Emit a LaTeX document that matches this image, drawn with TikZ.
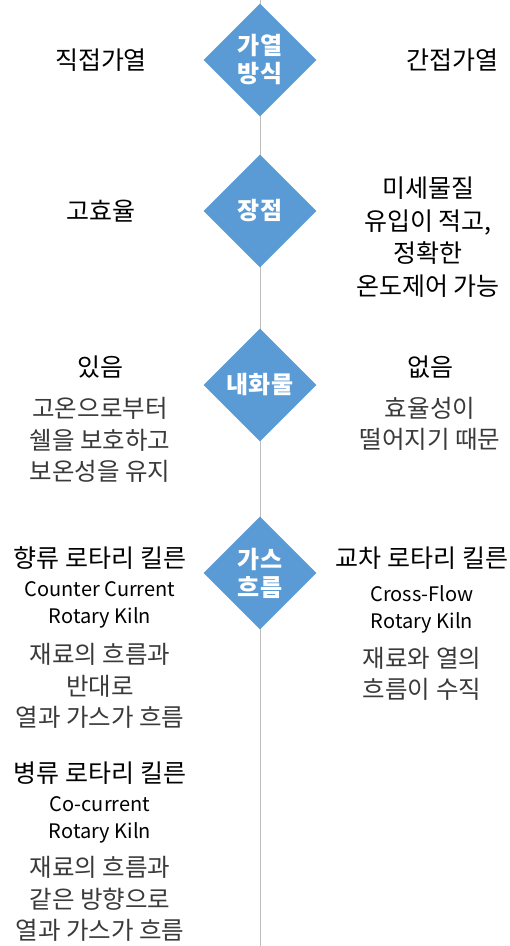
\documentclass[tikz,border=0pt]{standalone}
\usepackage{fontspec}
\setmainfont{Noto Sans CJK KR}
\usetikzlibrary{shapes.geometric}
\definecolor{dia}{HTML}{5B9BD5}
\definecolor{axis}{HTML}{BDBDBD}
\definecolor{desc}{HTML}{3A3A3A}
\begin{document}
\begin{tikzpicture}[x=1pt,y=-1pt,
  dnode/.style={diamond,fill=dia,minimum width=113pt,minimum height=113pt,inner sep=0pt,text=white,align=center,font=\fontsize{24}{28}\selectfont\bfseries},
  head/.style={inner sep=0pt,align=center,text=black,font=\fontsize{25}{32}\selectfont},
  eng/.style={inner sep=0pt,align=center,text=black,font=\fontsize{20}{27}\selectfont},
  dsc/.style={inner sep=0pt,align=center,text=desc,font=\fontsize{24.5}{31.5}\selectfont}]
\useasboundingbox (0,0) rectangle (510,946);
\fill[white] (0,0) rectangle (510,946);
\coordinate (top) at (260,0);
\coordinate (bot) at (260,946);
\draw[axis,line width=1pt] (top) -- (bot);
\node[dnode] (d1) at (260,60) {가열\\방식};
\node[dnode] (d2) at (260,211) {장점};
\node[dnode] (d3) at (260,385) {내화물};
\node[dnode] (d4) at (260,573) {가스\\흐름};
% left
\node[head] (l1) at (101,60) {직접가열};
\node[head] (l2) at (101,211) {고효율};
\node[head] (l3h) at (100,367) {있음};
\node[dsc] (l3d) at (100,440) {고온으로부터\\쉘을 보호하고\\보온성을 유지};
\node[head] (l4h) at (100,558) {향류 로타리 킬른};
\node[eng] (l4e) at (100,604.5) {Counter Current\\Rotary Kiln};
\node[dsc] (l4d) at (100,686) {재료의 흐름과\\반대로\\열과 가스가 흐름};
\node[head] (l5h) at (100,773) {병류 로타리 킬른};
\node[eng] (l5e) at (100,819.5) {Co-current\\Rotary Kiln};
\node[dsc] (l5d) at (100,899) {재료의 흐름과\\같은 방향으로\\열과 가스가 흐름};
% right
\node[head] (r1) at (452,60) {간접가열};
\node[head,font=\fontsize{25}{32.5}\selectfont] (r2) at (428,237) {미세물질\\유입이 적고,\\정확한\\온도제어 가능};
\node[head] (r3h) at (430,367) {없음};
\node[dsc] (r3d) at (430,424) {효율성이\\떨어지기 때문};
\node[head] (r4h) at (422,558) {교차 로타리 킬른};
\node[eng] (r4e) at (422,609.5) {Cross-Flow\\Rotary Kiln};
\node[dsc] (r4d) at (422,674) {재료와 열의\\흐름이 수직};
\end{tikzpicture}
\end{document}
